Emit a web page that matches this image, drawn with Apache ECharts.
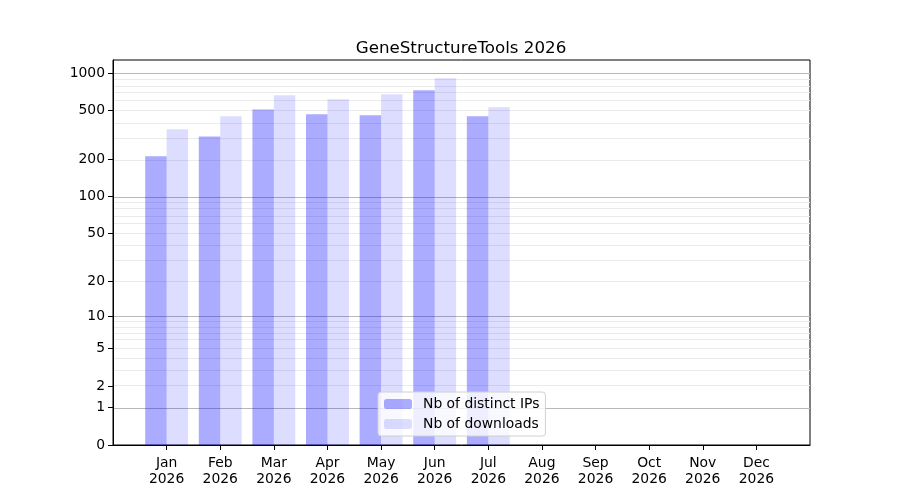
<!DOCTYPE html>
<html>
<head>
<meta charset="utf-8">
<script src="https://cdn.jsdelivr.net/npm/echarts@6/dist/echarts.min.js"></script>
<style>
  html, body { margin: 0; padding: 0; background: #fff; }
  #chart-container { width: 900px; height: 500px; }
</style>
</head>
<body>
<div id="chart-container"></div>
<script>
var months = ['Jan', 'Feb', 'Mar', 'Apr', 'May', 'Jun', 'Jul', 'Aug', 'Sep', 'Oct', 'Nov', 'Dec'];
var year = '2026';
var distinctIPs = [213, 309, 511, 466, 458, 729, 449, 0, 0, 0, 0, 0];
var downloads = [353, 449, 664, 616, 677, 911, 531, 0, 0, 0, 0, 0];
var yTicks = [0, 1, 2, 5, 10, 20, 50, 100, 200, 500, 1000];
var majorGrid = [1, 10, 100, 1000];
var minorGrid = [2, 3, 4, 5, 6, 7, 8, 9, 20, 30, 40, 50, 60, 70, 80, 90, 200, 300, 400, 500, 600, 700, 800, 900];

// the y scale is log10(v + 1)
function fwd(v) { return Math.log10(v + 1); }
function back(t) { return Math.round(Math.pow(10, t) - 1); }

var chartDom = document.getElementById('chart-container');
var myChart = echarts.init(chartDom);
var option;

// pad one empty slot on each side so the months sit like matplotlib's xlim
var categories = [' '].concat(months.map(function (m) { return m + '\n' + year; }), ['  ']);
function pad(arr) {
  return [null].concat(arr.map(fwd), [null]);
}
var inside = function (i) { return i > 0 && i < categories.length - 1; };

var maxVal = Math.max.apply(null, distinctIPs.concat(downloads));
var yMax = fwd(maxVal) * 1.05;

var gridLines = majorGrid.map(function (v) {
  return { yAxis: fwd(v), lineStyle: { color: '#b8b8b8', width: 1, type: 'solid' } };
}).concat(minorGrid.map(function (v) {
  return { yAxis: fwd(v), lineStyle: { color: '#ebebeb', width: 1, type: 'solid' } };
}));

var font = 'DejaVu Sans';

option = {
  animation: false,
  backgroundColor: '#fff',
  title: {
    text: 'GeneStructureTools ' + year,
    left: 456,
    textAlign: 'center',
    top: 35,
    textStyle: { fontFamily: font, fontSize: 16.7, fontWeight: 'normal', color: '#000' }
  },
  legend: {
    orient: 'vertical',
    left: 378,
    top: 392,
    itemWidth: 28,
    itemHeight: 10,
    itemGap: 6,
    padding: [5, 6, 5, 6],
    backgroundColor: 'rgba(255,255,255,0.8)',
    borderColor: '#d0d0d0',
    borderWidth: 1,
    borderRadius: 3,
    textStyle: { fontFamily: font, fontSize: 13.9, color: '#000', padding: [0, 0, 0, 6] },
    data: ['Nb of distinct IPs', 'Nb of downloads']
  },
  grid: {
    left: 113,
    right: 90,
    top: 60,
    bottom: 55,
    show: true,
    borderColor: '#000',
    borderWidth: 1
  },
  xAxis: {
    type: 'category',
    data: categories,
    boundaryGap: false,
    axisLine: { lineStyle: { color: '#000', width: 1 } },
    axisTick: { interval: function (i) { return inside(i); }, length: 5, lineStyle: { color: '#000' } },
    axisLabel: {
      interval: function (i) { return inside(i); },
      fontFamily: font, fontSize: 13.9, color: '#000', margin: 10, lineHeight: 16
    },
    splitLine: { show: false }
  },
  yAxis: {
    type: 'value',
    min: 0,
    max: yMax,
    axisLine: { show: true, lineStyle: { color: '#000', width: 1 } },
    axisTick: { show: true, length: 5, customValues: yTicks.map(fwd), lineStyle: { color: '#000' } },
    axisLabel: {
      customValues: yTicks.map(fwd),
      formatter: function (t) { return String(back(t)); },
      fontFamily: font, fontSize: 13.9, color: '#000', margin: 8
    },
    splitLine: { show: false }
  },
  series: [
    {
      // holder for the grid lines, drawn underneath the bars
      type: 'line',
      z: 0,
      silent: true,
      data: pad(distinctIPs).map(function () { return null; }),
      markLine: {
        z: 0,
        silent: true,
        symbol: 'none',
        label: { show: false },
        emphasis: { disabled: true },
        data: gridLines
      }
    },
    {
      name: 'Nb of distinct IPs',
      type: 'bar',
      z: 2,
      data: pad(distinctIPs),
      barWidth: '40%',
      barGap: '0%',
      itemStyle: { color: 'rgba(0,0,255,0.33)' }
    },
    {
      name: 'Nb of downloads',
      type: 'bar',
      z: 2,
      data: pad(downloads),
      barWidth: '40%',
      barGap: '0%',
      itemStyle: { color: 'rgba(0,0,255,0.135)' }
    }
  ]
};

option && myChart.setOption(option);
</script>
</body>
</html>
